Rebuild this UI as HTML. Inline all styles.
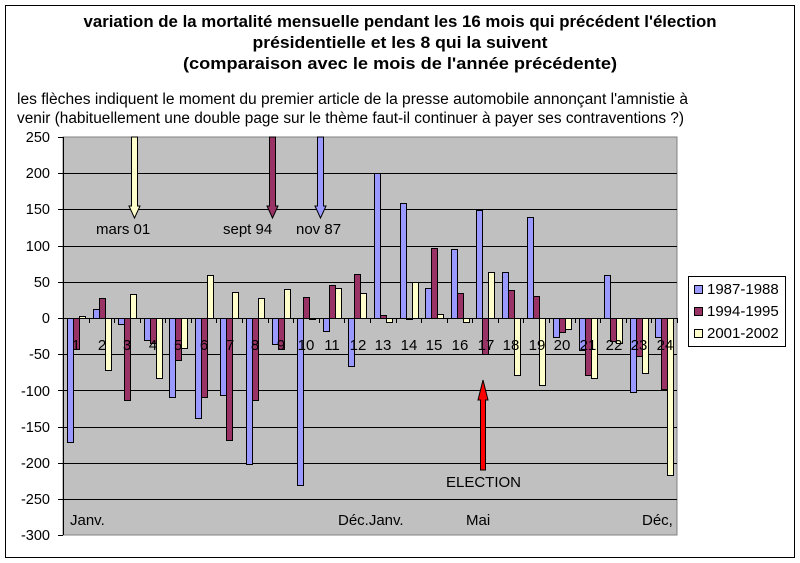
<!DOCTYPE html>
<html><head><meta charset="utf-8"><style>
body{margin:0;background:#fff;}
svg{display:block;font-family:"Liberation Sans",Arial,sans-serif;}
</style></head><body>
<svg id="s" width="800" height="563" viewBox="0 0 800 563" xmlns="http://www.w3.org/2000/svg">
<rect x="5.5" y="5.5" width="789" height="552" fill="#fff" stroke="#000"/>
<g font-weight="bold" font-size="16.5" text-anchor="middle" fill="#000">
<text x="400" y="27" textLength="633" lengthAdjust="spacingAndGlyphs">variation de la mortalité mensuelle pendant les 16 mois qui précédent l'élection</text>
<text x="400" y="48" textLength="295" lengthAdjust="spacingAndGlyphs">présidentielle et les 8 qui la suivent</text>
<text x="400" y="69" textLength="434" lengthAdjust="spacingAndGlyphs">(comparaison avec le mois de l'année précédente)</text>
</g>
<g font-size="15.5" fill="#000">
<text x="17" y="104" textLength="671" lengthAdjust="spacingAndGlyphs">les flèches indiquent le moment du premier article de la presse automobile annonçant l'amnistie à</text>
<text x="17" y="123" textLength="667" lengthAdjust="spacingAndGlyphs">venir (habituellement une double page sur le thème faut-il continuer à payer ses contraventions ?)</text>
</g>
<rect x="63" y="137" width="614" height="398" fill="#c0c0c0" stroke="#808080"/>
<g id="grid" stroke="#000" stroke-width="1"></g>
<g id="bars" stroke="#000" stroke-width="1"></g>
<line x1="63.5" y1="137" x2="63.5" y2="535" stroke="#000"/>
<g font-size="14.5" text-anchor="end" fill="#000">
<text x="50" y="142">250</text><text x="50" y="178">200</text><text x="50" y="214">150</text>
<text x="50" y="251">100</text><text x="50" y="287">50</text><text x="50" y="323">0</text>
<text x="50" y="359">-50</text><text x="50" y="396">-100</text><text x="50" y="432">-150</text>
<text x="50" y="468">-200</text><text x="50" y="504">-250</text><text x="50" y="540">-300</text>
</g>
<g font-size="15" text-anchor="middle" fill="#000">
<text x="76" y="350">1</text><text x="102" y="350">2</text><text x="127" y="350">3</text><text x="153" y="350">4</text>
<text x="178" y="350">5</text><text x="204" y="350">6</text><text x="230" y="350">7</text><text x="255" y="350">8</text>
<text x="281" y="350">9</text><text x="306" y="350">10</text><text x="332" y="350">11</text><text x="358" y="350">12</text>
<text x="383" y="350">13</text><text x="409" y="350">14</text><text x="434" y="350">15</text><text x="460" y="350">16</text>
<text x="486" y="350">17</text><text x="511" y="350">18</text><text x="537" y="350">19</text><text x="562" y="350">20</text>
<text x="588" y="350">21</text><text x="614" y="350">22</text><text x="639" y="350">23</text><text x="665" y="350">24</text>
</g>
<g font-size="15" fill="#000">
<text x="70" y="525">Janv.</text>
<text x="338" y="525">Déc.Janv.</text>
<text x="466" y="525">Mai</text>
<text x="642" y="525">Déc,</text>
<text x="96" y="234">mars 01</text>
<text x="223" y="234">sept 94</text>
<text x="296" y="234">nov 87</text>
<text x="446" y="487">ELECTION</text>
</g>
<g stroke="#000" stroke-width="1">
<path d="M131.5 137 V206 H129 L134.5 218 L140 206 H137.5 V137 Z" fill="#ffffcc"/>
<path d="M269.5 137 V206 H267 L272.5 218 L278 206 H275.5 V137 Z" fill="#993366"/>
<path d="M317.5 137 V206 H315 L320.5 218 L326 206 H323.5 V137 Z" fill="#9999ff"/>
<path d="M480.5 470 V400 H478 L483 380 L488 400 H485.5 V470 Z" fill="#ff0000"/>
</g>
<rect x="688.5" y="276.5" width="97" height="70" fill="#fff" stroke="#000"/>
<g stroke="#000"><rect x="694.5" y="285.5" width="8" height="8" fill="#9999ff"/>
<rect x="694.5" y="307.5" width="8" height="8" fill="#993366"/>
<rect x="694.5" y="329.5" width="8" height="8" fill="#ffffcc"/></g>
<g font-size="15" fill="#000"><text x="707" y="294">1987-1988</text><text x="707" y="316">1994-1995</text><text x="707" y="338">2001-2002</text></g>
</svg>
<script>
var NS="http://www.w3.org/2000/svg";
function y(v){return 318-v*0.7245;}
var g=document.getElementById("grid");
[200,150,100,50,0,-50,-100,-150,-200,-250].forEach(function(v){
var l=document.createElementNS(NS,"line");var yy=Math.round(y(v))+0.5;
l.setAttribute("x1",63);l.setAttribute("x2",677);l.setAttribute("y1",yy);l.setAttribute("y2",yy);g.appendChild(l);});
for(var v=250;v>=-300;v-=50){var l=document.createElementNS(NS,"line");var yy=Math.round(y(v))+0.5;
l.setAttribute("x1",58);l.setAttribute("x2",63);l.setAttribute("y1",yy);l.setAttribute("y2",yy);g.appendChild(l);}
for(var i=0;i<=24;i++){var l=document.createElementNS(NS,"line");var xx=Math.round(63+i*25.58)+0.5;
l.setAttribute("x1",xx);l.setAttribute("x2",xx);l.setAttribute("y1",318);l.setAttribute("y2",323);g.appendChild(l);}
var d=[[-171,-43,3],[12,27,-72],[-8,-113,33],[-30,-35,-83],[-109,-58,-41],[-138,-109,59],[-106,-168,36],[-202,-113,27],[-36,-43,40],[-231,29,-2],[-18,45,41],[-66,61,35],[200,4,-5],[159,-1,49],[41,97,6],[95,34,-6],[149,-49,63],[63,39,-78],[139,31,-93],[-26,-20,-15],[-44,-78,-83],[59,-32,-35],[-102,-52,-76],[-26,-98,-217]];
var c=["#9999ff","#993366","#ffffcc"];var b=document.getElementById("bars");
d.forEach(function(r,i){r.forEach(function(v,k){var x=Math.round(63+i*25.58+4+k*6)+0.5;
var y1=Math.round(y(Math.max(v,0)))+0.5,y2=Math.round(y(Math.min(v,0)))+0.5;
var e=document.createElementNS(NS,"rect");e.setAttribute("x",x);e.setAttribute("y",y1);e.setAttribute("width",6);e.setAttribute("height",Math.max(y2-y1,0.5));e.setAttribute("fill",c[k]);b.appendChild(e);});});
</script>
</body></html>
